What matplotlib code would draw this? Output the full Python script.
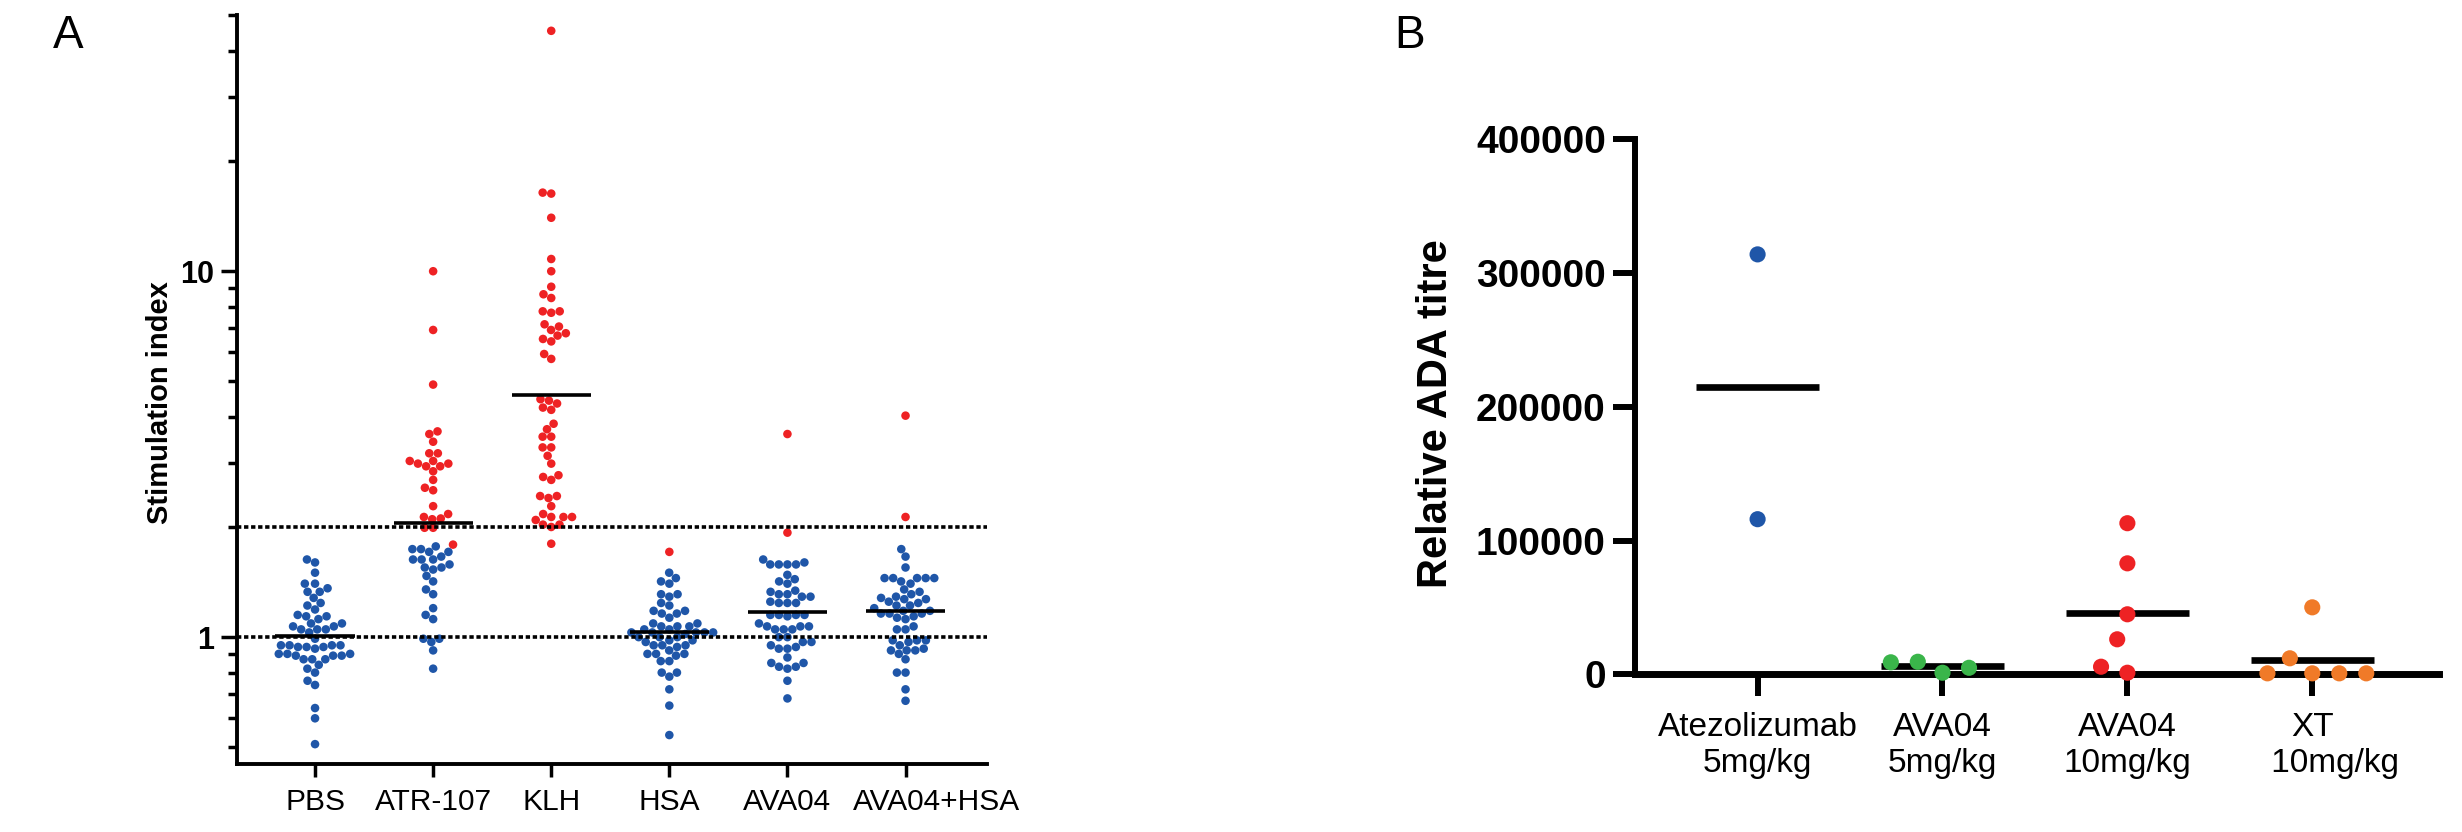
import numpy as np
import matplotlib
matplotlib.use("Agg")

import matplotlib.pyplot as plt
from matplotlib.transforms import ScaledTranslation

plt.rcParams["font.family"] = ["Liberation Sans", "DejaVu Sans"]

# Farben
BLUE = "#1f56a8"
RED = "#ee2224"
GREEN = "#3ab54a"
ORANGE = "#f07a28"

# ---------- Panel A: Stimulation index ----------
groups_a = ["PBS", "ATR-107", "KLH", "HSA", "AVA04", "AVA04+HSA"]

pbs_blue = [1.63, 1.60, 1.50, 1.40, 1.40, 1.36, 1.33, 1.33, 1.28, 1.24, 1.22, 1.19, 1.15,
            1.14, 1.14, 1.12, 1.09, 1.09, 1.07, 1.07, 1.05, 1.05, 1.05, 1.03, 0.99, 0.95,
            0.95, 0.95, 0.95, 0.94, 0.94, 0.94, 0.93, 0.90, 0.90, 0.90, 0.89, 0.89, 0.89,
            0.87, 0.87, 0.87, 0.84, 0.82, 0.80, 0.76, 0.74, 0.64, 0.60, 0.51]
pbs_red = []

atr_red = [10.0, 6.91, 4.90, 3.65, 3.59, 3.42, 3.18, 3.18, 3.03, 3.03, 2.98, 2.98, 2.93,
           2.93, 2.84, 2.69, 2.56, 2.52, 2.28, 2.17, 2.13, 2.11, 2.10, 1.99, 1.99, 1.79]
atr_blue = [1.77, 1.74, 1.74, 1.71, 1.71, 1.66, 1.63, 1.63, 1.63, 1.58, 1.55, 1.55, 1.53,
            1.47, 1.42, 1.35, 1.31, 1.20, 1.15, 1.12, 0.99, 0.99, 0.97, 0.92, 0.82]

klh_red = [45.4, 16.4, 16.3, 14.0, 10.8, 10.0, 9.07, 8.65, 8.45, 7.77, 7.77, 7.70, 7.16,
           7.06, 6.91, 6.77, 6.67, 6.53, 6.43, 5.94, 5.76, 4.47, 4.43, 4.35, 4.24, 4.18,
           3.83, 3.70, 3.53, 3.53, 3.30, 3.30, 3.13, 2.98, 2.77, 2.74, 2.69, 2.43, 2.43,
           2.40, 2.28, 2.17, 2.13, 2.13, 2.13, 2.09, 2.03, 2.03, 2.00, 1.80]
klh_blue = []

hsa_red = [1.71]
hsa_blue = [1.50, 1.45, 1.42, 1.40, 1.31, 1.31, 1.29, 1.24, 1.22, 1.18, 1.18, 1.16, 1.16,
            1.13, 1.09, 1.09, 1.07, 1.07, 1.07, 1.05, 1.05, 1.03, 1.03, 1.03, 1.03, 1.03,
            1.02, 1.00, 1.00, 1.00, 0.98, 0.98, 0.97, 0.95, 0.95, 0.95, 0.94, 0.90, 0.90,
            0.92, 0.90, 0.89, 0.86, 0.86, 0.80, 0.80, 0.78, 0.72, 0.65, 0.54]

ava_red = [3.59, 1.93]
ava_blue = [1.63, 1.60, 1.58, 1.58, 1.58, 1.58, 1.48, 1.42, 1.44, 1.40, 1.34, 1.33, 1.31,
            1.31, 1.29, 1.29, 1.24, 1.24, 1.25, 1.24, 1.15, 1.15, 1.14, 1.15, 1.15, 1.09,
            1.07, 1.07, 1.05, 1.05, 1.05, 1.07, 1.00, 1.00, 0.95, 0.97, 0.93, 0.93, 0.94,
            0.97, 0.88, 0.83, 0.83, 0.82, 0.85, 0.85, 0.76, 0.68]

avahsa_red = [4.03, 2.13]
avahsa_blue = [1.74, 1.66, 1.55, 1.45, 1.40, 1.42, 1.45, 1.45, 1.45, 1.45, 1.35, 1.33, 1.31,
               1.29, 1.28, 1.27, 1.25, 1.24, 1.27, 1.22, 1.22, 1.20, 1.16, 1.16, 1.18, 1.18,
               1.16, 1.14, 1.13, 1.12, 1.07, 1.05, 1.05, 0.98, 0.98, 0.97, 0.95, 0.98, 0.93,
               0.92, 0.92, 0.90, 0.92, 0.87, 0.80, 0.80, 0.72, 0.67]

# Mittelwert-Linien
center_a = [1.01, 2.05, 4.59, 1.03, 1.17, 1.18]
thresholds_a = [1, 2]

# ---------- Panel B: ADA titre ----------
groups_b = ["Atezolizumab\n5mg/kg", "AVA04\n5mg/kg", "AVA04\n10mg/kg", "XT\n     10mg/kg"]
atezo_5 = [314000, 116000]
ava04_5 = [1200, 9400, 4900, 9000]
ava04_10 = [113000, 83000, 44900, 26200, 1200, 5700]
xt_10 = [750, 12000, 50100, 750, 750, 750]
colors_b = [BLUE, GREEN, RED, ORANGE]


def swarm_offsets(ax, values, dist_px, sort=True):
    # einfache Beeswarm-Anordnung in Pixelkoordinaten
    values = np.asarray(values, dtype=float)
    ys = ax.transData.transform(np.column_stack([np.zeros(len(values)), values]))[:, 1]
    xs = np.zeros(len(values))
    placed = []
    order = np.argsort(ys, kind="stable") if sort else range(len(values))
    for i in order:
        y = ys[i]
        near = [(px, py) for px, py in placed if abs(py - y) < dist_px]
        cands = [0.0]
        for px, py in near:
            dx = np.sqrt(dist_px ** 2 - (py - y) ** 2)
            cands += [px - dx, px + dx]
        cands.sort(key=lambda c: (round(abs(c), 3), c))
        for c in cands:
            if all((c - px) ** 2 + (y - py) ** 2 >= dist_px ** 2 - 1e-6 for px, py in near):
                xs[i] = c
                break
        placed.append((xs[i], y))
    p0 = ax.transData.transform([(0, 1)])[0, 0]
    p1 = ax.transData.transform([(1, 1)])[0, 0]
    return xs / (p1 - p0)


def main():
    fig = plt.figure(figsize=(24.62, 8.32), dpi=100)

    # Panel A
    ax_a = fig.add_axes([0.0963, 0.0817, 0.3046, 0.8997])
    ax_a.set_yscale("log")
    ax_a.set_xlim(-0.66, 5.69)
    ax_a.set_ylim(0.45, 50)

    blue_sets = [pbs_blue, atr_blue, klh_blue, hsa_blue, ava_blue, avahsa_blue]
    red_sets = [pbs_red, atr_red, klh_red, hsa_red, ava_red, avahsa_red]
    for i in range(len(groups_a)):
        vals = list(blue_sets[i]) + list(red_sets[i])
        cols = [BLUE] * len(blue_sets[i]) + [RED] * len(red_sets[i])
        offs = swarm_offsets(ax_a, vals, 8.6)
        ax_a.scatter(i + offs, vals, s=38, c=cols, edgecolors="none", zorder=3, clip_on=False)
        ax_a.hlines(center_a[i], i - 0.335, i + 0.335, color="black", lw=2.6, zorder=4)

    for t in thresholds_a:
        ax_a.axhline(t, color="black", lw=2.6, dashes=(1.2, 0.75), zorder=5)

    ax_a.set_yticks([1, 10], labels=["1", "10"], fontsize=22, fontweight="bold")
    ax_a.set_yticks([0.5, 0.6, 0.7, 0.8, 0.9, 2, 3, 4, 5, 6, 7, 8, 9, 20, 30, 40, 50],
                    minor=True)
    ax_a.yaxis.set_minor_formatter(matplotlib.ticker.NullFormatter())
    ax_a.set_xticks(range(len(groups_a)), labels=groups_a, fontsize=21.5)
    ax_a.tick_params(axis="y", which="major", length=11.5, width=2.5, pad=5)
    ax_a.tick_params(axis="y", which="minor", length=6.5, width=2.5)
    ax_a.tick_params(axis="x", length=9.5, width=2.5, pad=8)
    ax_a.set_ylabel("Stimulation index", fontsize=21, fontweight="bold")
    ax_a.yaxis.set_label_coords(-0.084, 0.483)
    for side in ["top", "right"]:
        ax_a.spines[side].set_visible(False)
    for side in ["left", "bottom"]:
        ax_a.spines[side].set_linewidth(2.8)

    # letztes Label etwas nach rechts wie im Original
    last = ax_a.get_xticklabels()[-1]
    last.set_transform(last.get_transform() + ScaledTranslation(0.31, 0, fig.dpi_scale_trans))

    # Panel B
    ax_b = fig.add_axes([0.6641, 0.1895, 0.3266, 0.6430])
    ax_b.set_xlim(-0.663, 3.686)
    ax_b.set_ylim(0, 400000)

    sets_b = [atezo_5, ava04_5, ava04_10, xt_10]
    for i, vals in enumerate(sets_b):
        offs = swarm_offsets(ax_b, vals, 27, sort=False)
        ax_b.hlines(np.mean(vals), i - 0.333, i + 0.333, color="black", lw=4.8, zorder=3,
                    clip_on=False)
        ax_b.scatter(i + offs, vals, s=135, c=colors_b[i], edgecolors="none", zorder=5,
                     clip_on=False)

    ticks_b = [0, 100000, 200000, 300000, 400000]
    ax_b.set_yticks(ticks_b, labels=[str(t) for t in ticks_b], fontsize=28, fontweight="bold")
    ax_b.set_xticks(range(len(groups_b)), labels=groups_b, fontsize=24)
    ax_b.tick_params(axis="y", length=16, width=4.3, pad=5)
    ax_b.tick_params(axis="x", length=16, width=4.3, pad=11)
    ax_b.set_ylabel("Relative ADA titre", fontsize=30, fontweight="bold")
    ax_b.yaxis.set_label_coords(-0.223, 0.488)
    for side in ["top", "right"]:
        ax_b.spines[side].set_visible(False)
    ax_b.spines["left"].set_linewidth(4.3)
    ax_b.spines["bottom"].set_linewidth(5)
    ax_b.spines["bottom"].set_zorder(4)

    # Panelbuchstaben
    fig.text(53 / 2462, 0.983, "A", fontsize=33, va="top", ha="left")
    fig.text(1394 / 2462, 0.983, "B", fontsize=33, va="top", ha="left")

    # Speichern
    fig.savefig("out.png", dpi=100)
    plt.close(fig)


if __name__ == "__main__":
    main()
